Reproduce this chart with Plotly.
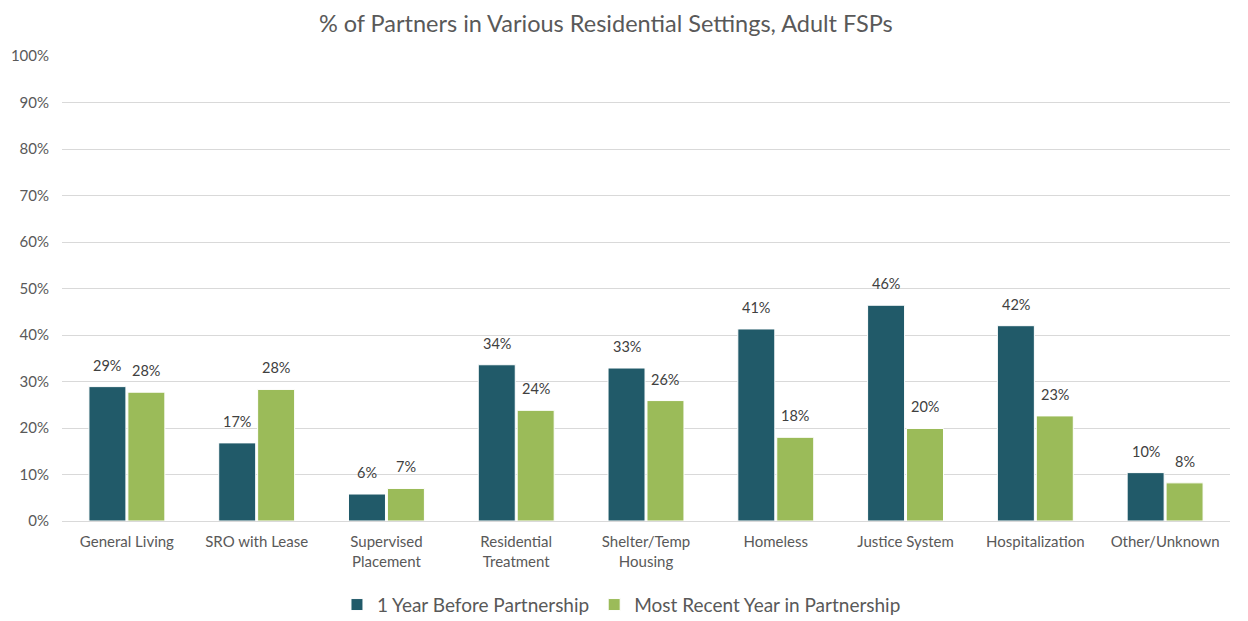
import plotly.graph_objects as go

categories = ["General Living", "SRO with Lease", "Supervised<br>Placement", "Residential<br>Treatment",
              "Shelter/Temp<br>Housing", "Homeless", "Justice System", "Hospitalization", "Other/Unknown"]
before = [28.9, 16.8, 5.8, 33.6, 32.9, 41.3, 46.4, 42.0, 10.4]
recent = [27.7, 28.3, 7.0, 23.8, 25.9, 18.0, 19.9, 22.6, 8.2]
series_names = ["1 Year Before Partnership", "Most Recent Year in Partnership"]
tick_vals = [0, 10, 20, 30, 40, 50, 60, 70, 80, 90, 100]
tick_text = [f"{v}%" for v in tick_vals]

FONT = "Lato, Open Sans, sans-serif"
W, H = 1248, 621
ML, MR, MT, MB = 54, 26, 48, 108
BARGAP = 0.40
fig = go.Figure()
series = [(series_names[0], before, "#215a69", -1), (series_names[1], recent, "#9bbb59", 1)]
for name, vals, col, _ in series:
    fig.add_trace(go.Bar(
        x=categories, y=vals, name=name,
        marker=dict(color=col, line=dict(color="white", width=1)),
    ))

cat_w = (W - ML - MR) / len(categories)
shift = cat_w * (1 - BARGAP) / 4
annotations = []
for name, vals, col, sgn in series:
    for c, v in zip(categories, vals):
        annotations.append(dict(
            x=c, y=v, xref="x", yref="y", text=f"{v:.0f}%", showarrow=False,
            xanchor="center", yanchor="bottom", xshift=sgn * shift, yshift=11,
            font=dict(size=14.5, color="#404040", family=FONT)))

fig.update_layout(
    width=W, height=H,
    paper_bgcolor="white", plot_bgcolor="white",
    margin=dict(l=ML, r=MR, t=MT, b=MB, autoexpand=False),
    title=dict(text="% of Partners in Various Residential Settings, Adult FSPs",
               x=0.479, xanchor="center", y=1, yref="container", yanchor="top",
               pad=dict(t=8),
               font=dict(size=23.5, color="#595959", family=FONT)),
    barmode="group", bargap=BARGAP, bargroupgap=0.05,
    font=dict(family=FONT, color="#595959", size=15),
    legend=dict(orientation="h", x=0.479, xanchor="center", y=-0.18, yanchor="middle",
                font=dict(size=19, color="#595959", family=FONT), traceorder="normal",
                itemwidth=30),
    showlegend=True,
    annotations=annotations,
)
fig.update_yaxes(range=[0, 100], tickvals=tick_vals, ticktext=tick_text,
                 gridcolor="#d9d9d9", gridwidth=1, zeroline=False, automargin=False,
                 showline=False, tickfont=dict(size=15, color="#595959"), ticks="",
                 ticklabelstandoff=12)
fig.update_xaxes(showline=True, linecolor="#d9d9d9", linewidth=1, automargin=False,
                 tickfont=dict(size=15, color="#595959"), ticks="", ticklabelstandoff=7)

fig.write_html("out.html")
